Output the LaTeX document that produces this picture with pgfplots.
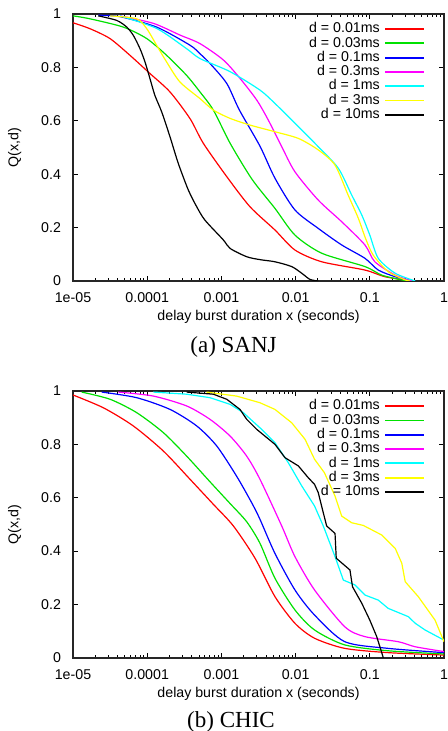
\documentclass[border=0pt]{standalone}
\usepackage{fontspec}
\setmainfont{Liberation Serif}
\setsansfont{Liberation Sans}
\usepackage{pgfplots}
\pgfplotsset{compat=1.18}

\definecolor{gpred}{RGB}{255,0,0}
\definecolor{gpgreen}{RGB}{0,225,0}
\definecolor{gpblue}{RGB}{0,0,255}
\definecolor{gpmagenta}{RGB}{255,0,255}
\definecolor{gpcyan}{RGB}{0,255,255}
\definecolor{gpyellow}{RGB}{255,255,0}

\pgfplotsset{
  legend image code/.code={\draw[#1, line width=0.9pt] (0pt,0pt) -- (19.5pt,0pt);},
  scale only axis,
  axis line style={line width=0.9pt, black!85},
  tick style={line width=0.5pt, black},
  tick align=inside,
  major tick length=2.5pt, minor tick length=1.3pt,
  tick label style={font=\fontsize{7.1}{8}\sffamily},
  xticklabel style={yshift=-2.5pt},
  yticklabel style={xshift=-2.5pt},
  every axis x label/.style={at={(axis description cs:0.5,-0.134)}, anchor=center,
    font=\fontsize{7.1}{8}\sffamily},
  every axis y label/.style={at={(axis description cs:-0.157,0.5)}, anchor=center, rotate=90,
    font=\fontsize{7.1}{8}\sffamily},
  legend style={draw=none, fill=none, at={(rel axis cs:1,1)}, xshift=-6.25pt, yshift=-2pt,
    anchor=north east, font=\fontsize{7.1}{8}\sffamily, row sep=0.45pt,
    nodes={inner ysep=0pt, inner xsep=2.25pt, text height=5.2pt, text depth=1.5pt}},
  legend cell align=right,
  legend plot pos=right,
  every axis plot/.append style={line width=0.6pt},
  sm/.style={smooth, tension=0.45},
}

\begin{document}
\begin{tikzpicture}
\useasboundingbox (0,0) rectangle (224pt,-365.5pt);

% (a) SANJ
\begin{axis}[at={(36.5pt,-140.5pt)}, anchor=south west,
    width=185.5pt, height=133.5pt,
    xmode=log, xmin=1e-5, xmax=1, ymin=0, ymax=1,
    xtick={1e-5,1e-4,1e-3,1e-2,1e-1,1},
    xticklabels={1e-05,0.0001,0.001,0.01,0.1,1},
    ytick={0,0.2,0.4,0.6,0.8,1},
    yticklabels={0,0.2,0.4,0.6,0.8,1},
    xlabel={delay burst duration x (seconds)},
    ylabel={Q(x,d)}]
\addplot[gpred, sm] coordinates {
 (1e-5,0.967) (1.69e-5,0.945) (3.15e-5,0.908) (5.87e-5,0.845) (1.09e-4,0.777)
 (2.03e-4,0.708) (3.78e-4,0.608) (5.7e-4,0.516) (1.18e-3,0.391) (2.43e-3,0.278)
 (5.27e-3,0.191) (9.8e-3,0.116) (0.0225,0.072) (0.086,0.041) (0.16,0.016) (0.37,0)
};
\addlegendentry{d = 0.01ms}
\addplot[gpgreen, sm] coordinates {
 (1e-5,0.993) (1.69e-5,0.982) (4.76e-5,0.951) (9.85e-5,0.908) (1.83e-4,0.845)
 (3.4e-4,0.77) (5.15e-4,0.708) (7.8e-4,0.64) (1.31e-3,0.516) (2.6e-3,0.38)
 (5.27e-3,0.272) (9.8e-3,0.172) (0.0225,0.104) (0.086,0.054) (0.145,0.022)
 (0.27,0.004) (0.35,0)
};
\addlegendentry{d = 0.03ms}
\addplot[gpblue, sm] coordinates {
 (2.2e-5,0.995) (4.3e-5,0.99) (1.34e-4,0.951) (3.78e-4,0.883) (5.15e-4,0.851)
 (7.0e-4,0.815) (1.18e-3,0.740) (1.75e-3,0.64) (3.31e-3,0.505) (5.27e-3,0.385)
 (9.8e-3,0.266) (0.0202,0.197) (0.0418,0.135) (0.086,0.085) (0.13,0.041)
 (0.22,0.016) (0.37,0)
};
\addlegendentry{d = 0.1ms}
\addplot[gpmagenta, sm] coordinates {
 (4.3e-5,0.993) (1.21e-4,0.965) (2.77e-4,0.921) (5.15e-4,0.889) (1.06e-3,0.828)
 (1.78e-3,0.759) (2.99e-3,0.678) (4.28e-3,0.603) (6.5e-3,0.503) (9.8e-3,0.409)
 (0.0202,0.303) (0.0418,0.222) (0.086,0.135) (0.117,0.072) (0.22,0.022) (0.37,0)
};
\addlegendentry{d = 0.3ms}
\addplot[gpcyan, sm] coordinates {
 (4.3e-5,0.993) (1.34e-4,0.946) (3.4e-4,0.87) (5.15e-4,0.833) (1.31e-3,0.784)
 (3.31e-3,0.715) (5.27e-3,0.665) (9.8e-3,0.591) (0.0202,0.503) (0.0377,0.422)
 (0.057,0.322) (0.078,0.247) (0.10,0.172) (0.13,0.085) (0.22,0.029) (0.41,0)
};
\addlegendentry{d = 1ms}
\addplot[gpyellow, sm] coordinates {
 (3.15e-5,0.993) (7.2e-5,0.982) (9.85e-5,0.945) (1.34e-4,0.883) (1.83e-4,0.82)
 (2.77e-4,0.745) (5.15e-4,0.683) (7.8e-4,0.64) (1.31e-3,0.609) (2.43e-3,0.584)
 (5.27e-3,0.559) (0.0109,0.534) (0.0202,0.491) (0.034,0.434) (0.051,0.322)
 (0.070,0.235) (0.0875,0.16) (0.111,0.097) (0.177,0.035) (0.30,0.004) (0.35,0)
};
\addlegendentry{d = 3ms}
\addplot[black, sm] coordinates {
 (2.19e-5,0.993) (3.88e-5,0.976) (5.3e-5,0.951) (6.5e-5,0.92) (8.0e-5,0.87)
 (9.35e-5,0.82) (1.09e-4,0.758) (1.27e-4,0.695) (1.57e-4,0.633) (2.03e-4,0.54)
 (2.62e-4,0.441) (3.58e-4,0.341) (4.65e-4,0.278) (6.0e-4,0.228) (1.06e-3,0.154)
 (1.31e-3,0.122) (2.19e-3,0.091) (3.31e-3,0.08) (5.27e-3,0.072) (8.85e-3,0.054)
 (0.0121,0.029) (0.0156,0.006) (0.0202,0)
};
\addlegendentry{d = 10ms}
\end{axis}
\node[font=\fontsize{11.5}{13}\selectfont] at (116.75pt,-173.5pt) {(a) SANJ};

% (b) CHIC
\begin{axis}[at={(36.5pt,-328.85pt)}, anchor=south west,
    width=185.5pt, height=133.35pt,
    xmode=log, xmin=1e-5, xmax=1, ymin=0, ymax=1,
    xtick={1e-5,1e-4,1e-3,1e-2,1e-1,1},
    xticklabels={1e-05,0.0001,0.001,0.01,0.1,1},
    ytick={0,0.2,0.4,0.6,0.8,1},
    yticklabels={0,0.2,0.4,0.6,0.8,1},
    xlabel={delay burst duration x (seconds)},
    ylabel={Q(x,d)}]
\addplot[gpred, sm] coordinates {
 (1e-5,0.985) (2.57e-5,0.937) (6.5e-5,0.869) (1.65e-4,0.775) (3.78e-4,0.669)
 (7.8e-4,0.575) (1.45e-3,0.494) (2.84e-3,0.373) (5.27e-3,0.229)
 (9.8e-3,0.129) (0.018,0.073) (0.046,0.035) (0.177,0.019) (1,0.01)
};
\addlegendentry{d = 0.01ms}
\addplot[gpgreen, sm] coordinates {
 (1.31e-5,0.996) (3.16e-5,0.969) (7.2e-5,0.919) (1.65e-4,0.844) (3.4e-4,0.756)
 (7.0e-4,0.660) (1.31e-3,0.578) (2.19e-3,0.510) (3.31e-3,0.429) (5.27e-3,0.298)
 (9.8e-3,0.179) (0.018,0.104) (0.046,0.048) (0.177,0.026) (1,0.014)
};
\addlegendentry{d = 0.03ms}
\addplot[gpblue, sm] coordinates {
 (2.44e-5,0.996) (7.2e-5,0.975) (2.03e-4,0.931) (4.65e-4,0.869) (8.65e-4,0.794)
 (1.6e-3,0.681) (2.56e-3,0.581) (3.31e-3,0.519) (5.27e-3,0.391) (9.8e-3,0.254)
 (0.018,0.16) (0.046,0.06) (0.177,0.035) (1,0.019)
};
\addlegendentry{d = 0.1ms}
\addplot[gpmagenta, sm] coordinates {
 (4.08e-5,0.996) (1.21e-4,0.981) (3.4e-4,0.944) (7.0e-4,0.894) (1.31e-3,0.831)
 (2.19e-3,0.756) (3.31e-3,0.669) (6.5e-3,0.494) (9.8e-3,0.379) (0.018,0.254)
 (0.046,0.116) (0.086,0.079) (0.242,0.06) (0.41,0.041) (1,0.023)
};
\addlegendentry{d = 0.3ms}
\addplot[gpcyan] coordinates {
 (1.21e-4,0.996) (3.4e-4,0.988) (7e-4,0.975) (1.31e-3,0.950) (1.97e-3,0.919)
 (3.31e-3,0.862) (5.27e-3,0.806) (7.98e-3,0.731) (0.0121,0.644) (0.018,0.569)
 (0.0236,0.494) (0.034,0.379) (0.044,0.291) (0.063,0.273) (0.086,0.235)
 (0.13,0.216) (0.177,0.185) (0.33,0.154) (0.41,0.129) (0.555,0.104) (1,0.066)
};
\addlegendentry{d = 1ms}
\addplot[gpyellow] coordinates {
 (6.3e-4,0.996) (1.6e-3,0.981) (3.31e-3,0.956) (5.27e-3,0.931) (8.85e-3,0.881)
 (0.0134,0.819) (0.018,0.744) (0.0244,0.694) (0.034,0.606) (0.0418,0.531)
 (0.057,0.506) (0.0817,0.496) (0.145,0.46) (0.22,0.41) (0.27,0.354) (0.30,0.285)
 (0.45,0.229) (0.757,0.141) (1,0.06)
};
\addlegendentry{d = 3ms}
\addplot[black] coordinates {
 (3.4e-4,0.996) (7.8e-4,0.988) (1.18e-3,0.969) (1.78e-3,0.931) (2.19e-3,0.894)
 (2.56e-3,0.875) (3e-3,0.856) (5.27e-3,0.80) (7.2e-3,0.75) (0.0109,0.719)
 (0.0148,0.675) (0.018,0.65) (0.0202,0.619) (0.0236,0.544) (0.0262,0.494)
 (0.034,0.466) (0.0353,0.373) (0.054,0.329) (0.0585,0.266) (0.078,0.204)
 (0.1,0.141) (0.124,0.079) (0.152,0)
};
\addlegendentry{d = 10ms}
\end{axis}
\node[font=\fontsize{11.5}{13}\selectfont] at (115.5pt,-360.85pt) {(b) CHIC};
\end{tikzpicture}
\end{document}
